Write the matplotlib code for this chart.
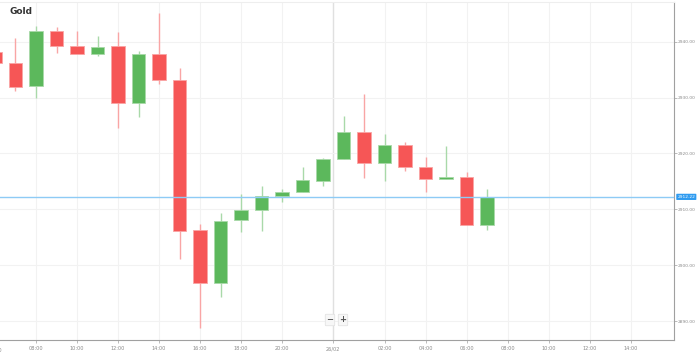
import matplotlib
matplotlib.use("Agg")
import matplotlib.pyplot as plt
from matplotlib.patches import Rectangle
from matplotlib.transforms import blended_transform_factory

# ---- data (hourly candles, x = candle index) ----
idx   = [-2, -1, 0, 1, 2, 3, 4, 5, 6, 7, 8, 9, 10, 11, 12, 13, 14, 15, 16, 17, 18, 19, 20, 21, 22]
opens = [2938.21, 2936.24, 2932.07, 2941.97, 2939.23, 2937.85, 2939.18, 2929.03, 2937.80, 2933.09,
         2906.20, 2896.80, 2908.03, 2909.82, 2912.43, 2913.09, 2915.12, 2918.95, 2923.89, 2918.28,
         2921.51, 2917.52, 2915.37, 2915.73, 2907.13]
highs = [2938.40, 2940.72, 2942.86, 2942.69, 2941.92, 2941.02, 2941.68, 2938.34, 2945.19, 2935.29,
         2907.36, 2909.28, 2912.68, 2914.17, 2913.68, 2917.62, 2919.23, 2926.70, 2930.58, 2923.48,
         2922.10, 2919.31, 2921.38, 2916.62, 2913.58]
lows  = [2936.00, 2931.17, 2929.97, 2937.92, 2937.85, 2937.49, 2924.50, 2926.57, 2932.37, 2901.05,
         2888.75, 2894.24, 2905.88, 2906.11, 2911.25, 2913.09, 2914.17, 2918.95, 2915.65, 2915.12,
         2916.91, 2913.09, 2915.37, 2907.13, 2906.29]
closes = [2936.24, 2931.94, 2941.97, 2939.23, 2937.85, 2939.00, 2929.03, 2937.80, 2933.09, 2906.17,
          2896.80, 2907.96, 2909.82, 2912.43, 2913.09, 2915.24, 2918.95, 2923.89, 2918.28, 2921.51,
          2917.52, 2915.37, 2915.73, 2907.13, 2912.20]

x_tick_pos = [-2, 0, 2, 4, 6, 8, 10, 12, 14.5, 17, 19, 21, 23, 25, 27, 29]
x_tick_lbl = ["06:00", "08:00", "10:00", "12:00", "14:00", "16:00", "18:00", "20:00", "26/02",
              "02:00", "04:00", "06:00", "08:00", "10:00", "12:00", "14:00"]
y_ticks = [2890, 2900, 2910, 2920, 2930, 2940]
y_tick_lbl = ["2890.00", "2900.00", "2910.00", "2920.00", "2930.00", "2940.00"]
last_price = 2912.22
last_price_lbl = "2912.22"
title = "Gold"

# ---- style ----
RED = "#f65656"
GREEN = "#5cb85c"
RED_W = "#f9a5a5"
GREEN_W = "#a9d9a9"
TXT = "#8a8a8a"
FS = 3.2

fig = plt.figure(figsize=(6.99, 3.58), dpi=100)
ax = fig.add_axes([0.0, 18 / 358, 674 / 699, 338 / 358])
ax.set_xlim(-1.756, 31.12)
ax.set_ylim(2886.6, 2947.1)

# grid
for xp in x_tick_pos:
    if xp == 14.5:
        ax.axvline(xp, color="#e0e0e0", lw=1.0, zorder=0)
    else:
        ax.axvline(xp, color="#f2f2f2", lw=0.8, zorder=0)
for yp in y_ticks:
    ax.axhline(yp, color="#f2f2f2", lw=0.8, zorder=0)

w = 0.65
for x, o, h, l, c in zip(idx, opens, highs, lows, closes):
    up = c >= o
    col = GREEN if up else RED
    wcol = GREEN_W if up else RED_W
    ax.vlines(x, l, h, color=wcol, lw=1.0, zorder=2)
    lo, hi = min(o, c), max(o, c)
    ax.add_patch(Rectangle((x - w / 2, lo), w, max(hi - lo, 0.25), facecolor=col,
                           edgecolor=wcol, lw=0.6, zorder=3))

# last price line
ax.axhline(last_price, color="#8ecbf5", lw=1.0, zorder=4)

# spines
ax.spines["left"].set_visible(False)
ax.spines["top"].set_color("#eeeeee")
ax.spines["right"].set_color("#a0a0a0")
ax.spines["bottom"].set_color("#a0a0a0")
ax.spines["right"].set_linewidth(0.8)
ax.spines["bottom"].set_linewidth(0.8)

ax.yaxis.tick_right()
ax.set_yticks(y_ticks)
ax.set_yticklabels(y_tick_lbl)
ax.tick_params(axis="y", length=2, width=0.5, colors="#a0a0a0", labelcolor=TXT,
               labelsize=FS, pad=1.0)
vis = [(p, t) for p, t in zip(x_tick_pos, x_tick_lbl) if p > -1.756]
ax.set_xticks([p for p, _ in vis])
ax.set_xticklabels([t for _, t in vis])
ax.tick_params(axis="x", length=2, width=0.5, colors="#a0a0a0", labelcolor=TXT,
               labelsize=3.6, pad=2.5)
# first label, partly beyond the left edge as in the reference
trans = blended_transform_factory(ax.transData, ax.transAxes)
ax.text(x_tick_pos[0], -0.0225, x_tick_lbl[0], transform=trans, ha="center", va="top",
        fontsize=3.6, color=TXT, clip_on=False)

# price label box
ax.text(1.005, last_price, last_price_lbl,
        transform=blended_transform_factory(ax.transAxes, ax.transData),
        ha="left", va="center", fontsize=FS, color="white", zorder=6, clip_on=False,
        bbox=dict(boxstyle="round,pad=0.25,rounding_size=0.15", fc="#2e9bf0", ec="none"))

# title
fig.text(10 / 699, 1 - 12 / 358, title, fontsize=6.5, fontweight="bold", color="#333333",
         ha="left", va="center")

# zoom buttons
for xc, s in [(330 / 699, "\u2212"), (343 / 699, "+")]:
    fig.text(xc, 1 - 320 / 358, s, fontsize=6, fontweight="bold", color="#555555",
             ha="center", va="center",
             bbox=dict(boxstyle="round,pad=0.15,rounding_size=0.1", fc="#f7f7f7", ec="#e0e0e0", lw=0.5))

fig.savefig("out.png", dpi=100)
